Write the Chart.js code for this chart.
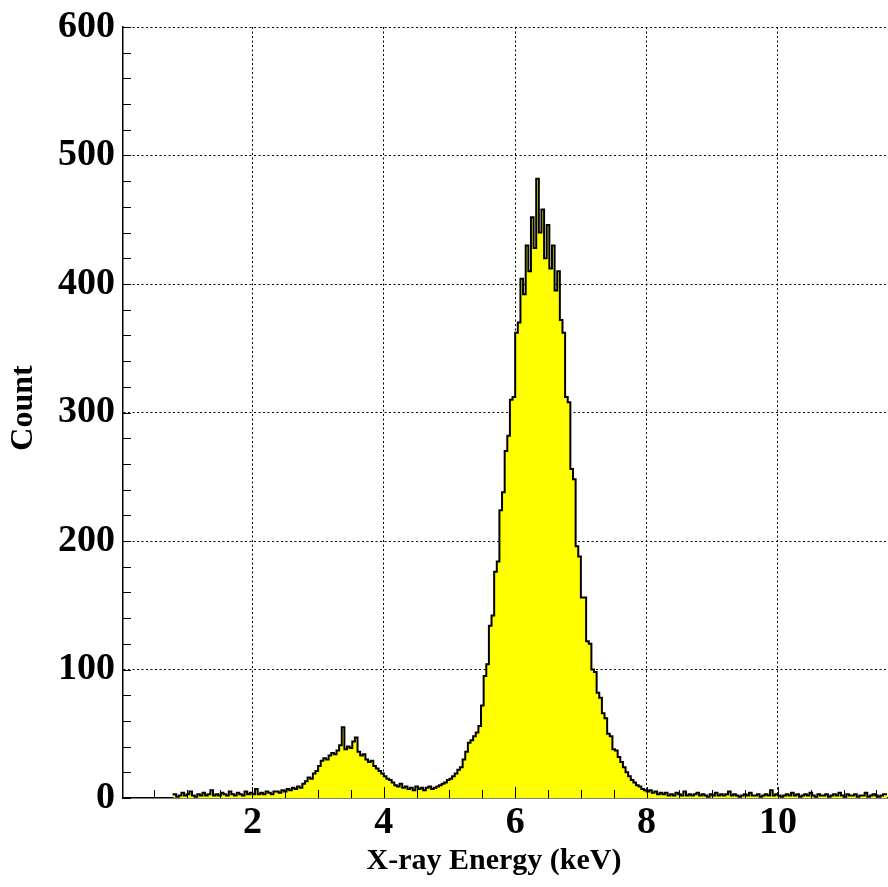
<!DOCTYPE html>
<html><head><meta charset="utf-8">
<script src="https://cdn.jsdelivr.net/npm/chart.js@4/dist/chart.umd.min.js"></script>
<style>html,body{margin:0;padding:0;background:#fff}#wrap{width:888px;height:887px}</style>
</head><body><div id="wrap"><canvas id="c" width="888" height="887"></canvas></div>
<script>
// Histogram: bin start (keV), bin width (keV) and counts per bin
const binStart = 0.80;
const binWidth = 0.04;
const counts = [
  2,3,1,2,4,2,3,5,2,1,
  3,2,4,2,3,6,2,3,2,4,
  3,2,5,3,2,4,3,2,5,3,
  4,3,7,3,4,3,5,4,3,5,
  5,4,6,5,7,6,8,7,9,8,
  11,13,16,15,19,21,25,29,31,30,
  33,35,34,37,41,55,38,40,39,44,
  47,36,33,34,30,28,29,25,23,21,
  19,17,15,14,12,10,9,11,8,9,
  7,8,6,9,7,8,6,8,9,7,
  8,9,10,11,12,14,15,17,19,22,
  24,30,36,43,45,48,51,56,72,95,
  104,134,142,176,184,224,238,270,282,310,
  312,362,370,404,392,430,410,452,428,482,
  440,458,420,446,412,430,395,410,372,362,
  312,308,256,248,196,188,156,156,122,120,
  100,98,82,78,66,62,50,48,38,37,
  32,28,24,20,17,14,12,10,9,7,
  6,5,6,4,5,3,4,3,4,2,
  3,2,4,3,2,5,2,3,2,3,
  4,2,3,2,1,3,2,4,2,3,
  2,3,5,2,3,2,1,2,3,2,
  4,2,2,3,1,2,3,2,6,2,
  3,2,1,2,3,2,4,2,3,1,
  2,3,2,4,2,1,3,2,2,3,
  1,2,3,2,4,2,1,3,2,2,
  3,1,2,2,4,1,2,3,2,1,
  2,3
];
const xRange = [0.03, 11.66];
const yRange = [0, 600];
const xTickValues = [2, 4, 6, 8, 10];
const yStep = 100;
const xMinorStep = 0.5;
const yMinorStep = 20;
const xTitle = "X-ray Energy (keV)";
const yTitle = "Count";

const pts = counts.map((c, i) => ({x: +(binStart + i * binWidth).toFixed(4), y: c}));
pts.push({x: +(binStart + counts.length * binWidth).toFixed(4), y: counts[counts.length - 1]});

const FONT = "'Liberation Serif','DejaVu Serif',serif";

const innerTicks = {
  id: 'innerTicks',
  afterDraw(chart) {
    const {ctx, chartArea: a, scales: {x, y}} = chart;
    ctx.save();
    ctx.strokeStyle = '#000';
    ctx.lineWidth = 1;
    ctx.beginPath();
    const nx = Math.floor(xRange[1] / xMinorStep);
    for (let k = 1; k <= nx; k++) {
      const v = k * xMinorStep;
      if (v < xRange[0]) continue;
      const px = Math.round(x.getPixelForValue(v)) + 0.5;
      const len = (v % 2 === 0) ? 11 : 8;
      ctx.moveTo(px, a.bottom);
      ctx.lineTo(px, a.bottom - len);
    }
    const ny = Math.round((yRange[1] - yRange[0]) / yMinorStep);
    for (let k = 0; k <= ny; k++) {
      const v = yRange[0] + k * yMinorStep;
      const py = Math.round(y.getPixelForValue(v)) + 0.5;
      ctx.moveTo(a.left, py);
      ctx.lineTo(a.left + 8, py);
    }
    ctx.stroke();
    // axis titles
    ctx.fillStyle = '#000';
    ctx.textAlign = 'center';
    ctx.textBaseline = 'middle';
    ctx.font = "bold 30px " + FONT;
    ctx.fillText(xTitle, 494, 861);
    ctx.translate(24, 408);
    ctx.rotate(-Math.PI / 2);
    ctx.font = "bold 32px " + FONT;
    ctx.fillText(yTitle, 0, 0);
    ctx.restore();
  }
};

new Chart(document.getElementById('c'), {
  type: 'line',
  data: {
    datasets: [{
      data: pts,
      stepped: 'after',
      borderColor: '#000',
      borderWidth: 2,
      backgroundColor: '#ffff00',
      fill: 'origin',
      pointRadius: 0,
      tension: 0
    }]
  },
  options: {
    responsive: false,
    animation: false,
    devicePixelRatio: 1,
    layout: {padding: {top: 27, right: 1, left: 0, bottom: 0}},
    plugins: {legend: {display: false}, tooltip: {enabled: false}},
    scales: {
      x: {
        type: 'linear',
        min: xRange[0], max: xRange[1],
        z: 1,
        afterBuildTicks: s => { s.ticks = xTickValues.map(v => ({value: v})); },
        afterFit: s => { s.height = 89; },
        grid: {color: '#000', lineWidth: 1, drawTicks: false},
        border: {display: true, color: '#000', width: 1.5, dash: [2, 2.5]},
        ticks: {font: {family: FONT, weight: 'bold', size: 38}, color: '#000', padding: 2, maxRotation: 0},
        title: {display: false}
      },
      y: {
        type: 'linear',
        min: yRange[0], max: yRange[1],
        z: 1,
        ticks: {stepSize: yStep, font: {family: FONT, weight: 'bold', size: 38, lineHeight: 1.0}, color: '#000', padding: 8},
        afterFit: s => { s.width = 123; },
        grid: {color: c => (c.tick && c.tick.value === 0) ? 'rgba(0,0,0,0)' : '#000', lineWidth: 1, drawTicks: false},
        border: {display: true, color: '#000', width: 1.5, dash: [2, 2.5]},
        title: {display: false}
      }
    }
  },
  plugins: [innerTicks]
});
</script>
</body></html>
